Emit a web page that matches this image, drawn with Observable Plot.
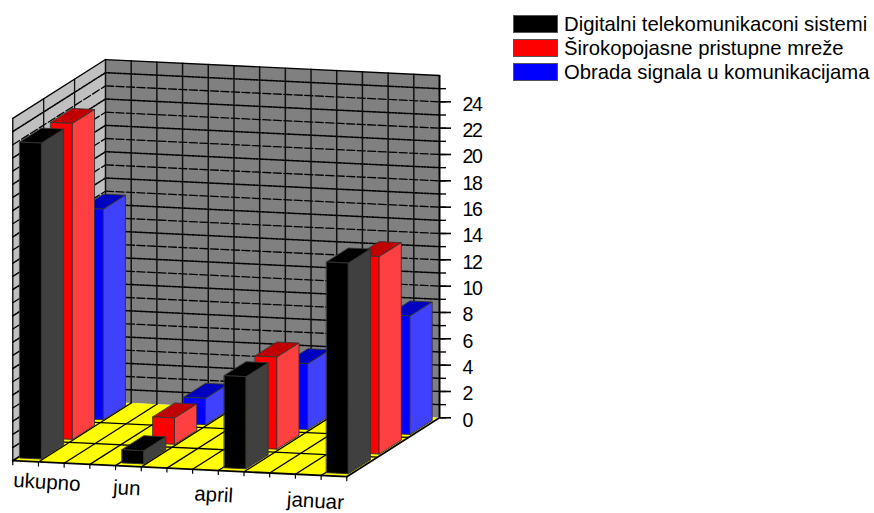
<!DOCTYPE html>
<html>
<head>
<meta charset="utf-8">
<script src="https://cdn.jsdelivr.net/npm/d3@7"></script>
<script src="https://cdn.jsdelivr.net/npm/@observablehq/plot@0.6"></script>
<style>
  html, body { margin: 0; padding: 0; background: #fff; }
  #chart { position: relative; width: 874px; height: 513px; overflow: hidden; font-family: "Liberation Sans", Arial, sans-serif; }
  #chart svg { display: block; }
  #chart svg [aria-label="y-axis tick label"] { letter-spacing: -1.4px; }
  .legend { position: absolute; left: 513px; top: 12px; color: #000; font-size: 20.3px; }
  .legend div { display: flex; align-items: center; height: 24.2px; white-space: nowrap; }
  .legend i { display: block; box-sizing: border-box; width: 44.5px; height: 18px; margin-right: 6.5px; border: 1px solid #555; }
</style>
</head>
<body>
<div id="chart"></div>
<script>
const categories = ["ukupno", "jun", "april", "januar"];
const seriesNames = ["Digitalni telekomunikaconi sistemi", "Širokopojasne pristupne mreže", "Obrada signala u komunikacijama"];
const digitalni = [24, 1, 7, 16];
const sirokopojasne = [24, 2, 7, 15];
const obrada = [16, 2, 5, 9];
const yMajor = [0, 2, 4, 6, 8, 10, 12, 14, 16, 18, 20, 22, 24];

const seriesValues = [digitalni, sirokopojasne, obrada];
const palette = [
  {front: "#000000", side: "#404040", top: "#000000"},
  {front: "#ff0000", side: "#ff4040", top: "#c00000"},
  {front: "#0000ff", side: "#4040ff", top: "#0000c0"}
];

// Oblique projection: u runs along the categories (13 divisions), d runs
// from the front of the floor to the back wall (3 divisions), v is the value.
const DIVISIONS = 13, DEPTH = 3, VMAX = 26;
const depthToX = 1.203, depthToY = 1.491, slopeY = 0.0933;
const pxPerValue = 13.165;
const project = (u, d, v) => ({
  x: u - (DEPTH - d) * depthToX,
  y: v + (DIVISIONS - u) * slopeY - (DEPTH - d) * depthToY
});
const segment = (key, a, b) => [
  {key, ...project(...a)},
  {key, ...project(...b)}
];

const range = d3.range;

// Walls and floor
const polygon = (key, fill, pts) => pts.map(p => ({key, fill, ...project(...p)}));
const panes = [
  ...polygon("back", "#808080", [[0, DEPTH, 0], [DIVISIONS, DEPTH, 0], [DIVISIONS, DEPTH, VMAX], [0, DEPTH, VMAX]]),
  ...polygon("left", "#c0c0c0", [[0, 0, 0], [0, DEPTH, 0], [0, DEPTH, VMAX], [0, 0, VMAX]]),
  ...polygon("floor", "#ffff00", [[0, 0, 0], [DIVISIONS, 0, 0], [DIVISIONS, DEPTH, 0], [0, DEPTH, 0]])
];

// Grid lines on the walls
const valueLines = v => [
  ...segment(`left${v}`, [0, 0, v], [0, DEPTH, v]),
  ...segment(`back${v}`, [0, DEPTH, v], [DIVISIONS, DEPTH, v])
];
const majorGrid = yMajor.filter(v => v > 0).flatMap(valueLines);
const minorGrid = range(1, VMAX, 2).flatMap(valueLines);
const backVerticals = range(0, DIVISIONS).flatMap(u => segment(`bv${u}`, [u, DEPTH, 0], [u, DEPTH, VMAX]));
const leftVerticals = range(1, DEPTH).flatMap(d => segment(`lv${d}`, [0, d, 0], [0, d, VMAX]));

// Floor grid and the short ticks under its front edge
const floorGrid = [
  ...range(1, DIVISIONS).flatMap(u => segment(`fu${u}`, [u, 0, 0], [u, DEPTH, 0])),
  ...range(1, DEPTH).flatMap(d => segment(`fd${d}`, [0, d, 0], [DIVISIONS, d, 0]))
];
const frontTicks = range(0, DIVISIONS + 1).flatMap(u => segment(`t${u}`, [u, 0, 0], [u, 0, -0.3]));

// Outer frame lines
const frame = [
  ...segment("a", [0, 0, VMAX], [0, DEPTH, VMAX]),
  ...segment("b", [0, DEPTH, VMAX], [DIVISIONS, DEPTH, VMAX]),
  ...segment("c", [0, 0, 0], [0, 0, VMAX])
];
const baseFrame = [
  ...segment("e", [0, 0, 0], [DIVISIONS, 0, 0]),
  ...segment("f", [DIVISIONS, 0, 0], [DIVISIONS, DEPTH, 0]),
  ...segment("g", [0, 0, 0], [0, DEPTH, 0])
];

// Bars, back row first so nearer boxes paint over farther ones
const BAR_WIDTH = 0.85, BAR_DEPTH = 0.71, CATEGORY_STEP = 3.98;
const faces = [];
[2, 1, 0].forEach(s => {
  categories.forEach((c, i) => {
    const v = seriesValues[s][i];
    const u0 = i * CATEGORY_STEP + 0.1, u1 = u0 + BAR_WIDTH;
    const d0 = s + (1 - BAR_DEPTH) / 2, d1 = d0 + BAR_DEPTH;
    const colour = palette[s];
    const add = (name, fill, pts) => pts.forEach(p => faces.push({key: `${s}-${i}-${name}`, fill, ...project(...p)}));
    add("top", colour.top, [[u0, d0, v], [u1, d0, v], [u1, d1, v], [u0, d1, v]]);
    add("front", colour.front, [[u0, d0, 0], [u1, d0, 0], [u1, d0, v], [u0, d0, v]]);
    add("side", colour.side, [[u1, d0, 0], [u1, d1, 0], [u1, d1, v], [u1, d0, v]]);
  });
});

// Category labels sit below the floor's front edge
const labelPlaces = [{u: 1.33, drop: 20}, {u: 4.44, drop: 22}, {u: 7.82, drop: 24.5}, {u: 11.78, drop: 26}];
const labelRows = categories.map((name, i) => ({name, ...project(labelPlaces[i].u, 0, -labelPlaces[i].drop / pxPerValue)}));

const gridLine = (data, options) => Plot.line(data, {x: "x", y: "y", z: "key", stroke: "#000", strokeWidth: 1, ...options});

const plot = Plot.plot({
  width: 874,
  height: 513,
  marginLeft: 105,
  marginRight: 435,
  marginTop: 75,
  marginBottom: 95.7,
  style: {background: "#fff", fontFamily: '"Liberation Sans", Arial, sans-serif', color: "#000"},
  x: {domain: [0, DIVISIONS], axis: null},
  y: {domain: [0, VMAX]},
  marks: [
    Plot.line(panes, {x: "x", y: "y", z: "key", fill: "fill", stroke: "none", curve: "linear-closed"}),
    gridLine(majorGrid, {strokeDasharray: "8 2.5", strokeWidth: 1.3}),
    gridLine(minorGrid, {strokeDasharray: "1.6 1.3", strokeWidth: 1.6}),
    gridLine(backVerticals, {stroke: "#111", strokeWidth: 1.5}),
    gridLine(leftVerticals, {stroke: "#111", strokeWidth: 1.3}),
    gridLine(floorGrid, {strokeWidth: 1.3}),
    gridLine(frontTicks, {strokeWidth: 1.2}),
    gridLine(frame, {strokeWidth: 1.3}),
    gridLine(baseFrame, {strokeWidth: 1.8}),
    Plot.line(faces, {x: "x", y: "y", z: "key", fill: "fill", stroke: "#333", strokeWidth: 0.9, curve: "linear-closed"}),
    Plot.axisY(range(0, VMAX), {anchor: "right", tickSize: 6, fill: "none", stroke: "#000", strokeWidth: 1.4, label: null}),
    Plot.axisY(yMajor, {anchor: "right", tickSize: 11, fill: "none", stroke: "#000", strokeWidth: 1.6, label: null}),
    Plot.axisY(yMajor, {anchor: "right", tickSize: 11, tickPadding: 12, stroke: "none", fill: "#000", fontSize: 19.5, dy: 2.5, label: null}),
    Plot.ruleX([DIVISIONS], {y1: 0, y2: VMAX, stroke: "#000", strokeWidth: 2}),
    Plot.text(labelRows, {x: "x", y: "y", text: "name", fontSize: 20.5, rotate: 3.5, fill: "#000"})
  ]
});

const chart = document.getElementById("chart");
chart.appendChild(plot);

// Legend in the upper right corner
const legend = document.createElement("div");
legend.className = "legend";
seriesNames.forEach((name, s) => {
  const row = document.createElement("div");
  const swatch = document.createElement("i");
  swatch.style.background = palette[s].front;
  row.append(swatch, document.createTextNode(name));
  legend.appendChild(row);
});
chart.appendChild(legend);
</script>
</body>
</html>
